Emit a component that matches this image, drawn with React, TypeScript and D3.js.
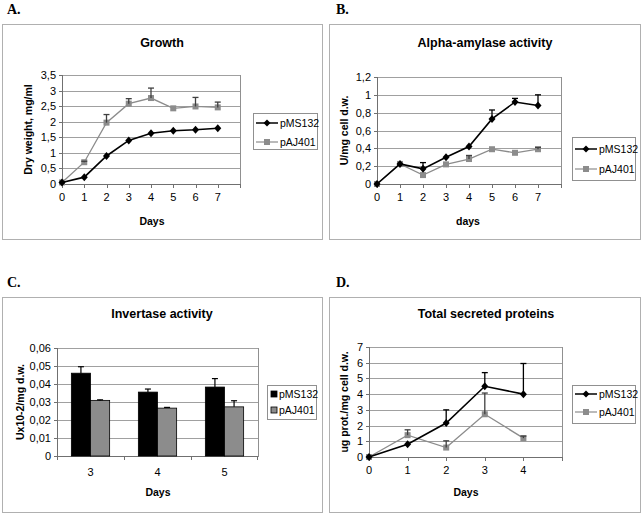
import * as d3 from "d3";

const SERIES = ["pMS132", "pAJ401"];

// A. Growth
const growthDays = [0, 1, 2, 3, 4, 5, 6, 7];
const growthMS = [0.05, 0.22, 0.9, 1.4, 1.63, 1.71, 1.74, 1.79];
const growthAJ = [0.05, 0.7, 1.97, 2.58, 2.76, 2.43, 2.49, 2.46];
const growthMSErr = [0, 0, 0, 0, 0, 0, 0, 0];
const growthAJErr = [0, 0.03, 0.26, 0.16, 0.32, 0, 0.29, 0.17];

// B. Alpha-amylase
const amyDays = [0, 1, 2, 3, 4, 5, 6, 7];
const amyMS = [0, 0.225, 0.17, 0.3, 0.42, 0.73, 0.92, 0.88];
const amyAJ = [0, 0.225, 0.1, 0.22, 0.28, 0.39, 0.35, 0.39];
const amyMSErr = [0, 0, 0.07, 0, 0, 0.1, 0.04, 0.12];
const amyAJErr = [0, 0, 0, 0, 0.04, 0, 0, 0.02];

// C. Invertase
const invDays = ["3", "4", "5"];
const invMS = [0.046, 0.0355, 0.0383];
const invAJ = [0.0309, 0.0266, 0.0273];
const invMSErr = [0.0036, 0.0017, 0.0047];
const invAJErr = [0.0003, 0.0004, 0.0034];

// D. Total secreted proteins
const protDays = [0, 1, 2, 3, 4];
const protMS = [0, 0.81, 2.16, 4.5, 4.0];
const protAJ = [0, 1.39, 0.6, 2.72, 1.2];
const protMSErr = [0, 0, 0.84, 0.87, 1.95];
const protAJErr = [0, 0.34, 0.43, 1.35, 0.13];

const FONT = "'Liberation Sans', Arial, sans-serif";
const fmt = (v: number) => String(+v.toFixed(3)).replace(".", ",");

type Box = { x: number; y: number; w: number; h: number };
type Plot = { l: number; r: number; t: number; b: number };

const Frame = ({ box, letter, title, xTitle, yTitle, plot, letterX }: any) => (
  <g>
    <text x={letterX} y={box.y - 10} fontFamily="'Liberation Serif', 'Times New Roman', serif" fontWeight="bold" fontSize={14}>
      {letter}
    </text>
    <rect x={box.x + 0.5} y={box.y + 0.5} width={box.w} height={box.h} fill="white" stroke="#b0b0b0" />
    <text x={title.x} y={title.y} textAnchor="middle" fontFamily={FONT} fontWeight="bold" fontSize={12.5}>
      {title.text}
    </text>
    <text x={xTitle.x} y={xTitle.y} textAnchor="middle" fontFamily={FONT} fontWeight="bold" fontSize={10.5}>
      {xTitle.text}
    </text>
    <text
      transform={`translate(${yTitle.x},${(plot.t + plot.b) / 2}) rotate(-90)`}
      textAnchor="middle"
      fontFamily={FONT}
      fontWeight="bold"
      fontSize={10.5}
    >
      {yTitle.text}
    </text>
  </g>
);

const YGrid = ({ plot, y, ticks }: { plot: Plot; y: d3.ScaleLinear<number, number>; ticks: number[] }) => (
  <g>
    <rect x={plot.l + 0.5} y={plot.t + 0.5} width={plot.r - plot.l} height={plot.b - plot.t} fill="white" stroke="#909090" />
    {ticks.map((t) => (
      <g key={t}>
        <line x1={plot.l} x2={plot.r} y1={Math.round(y(t)) + 0.5} y2={Math.round(y(t)) + 0.5} stroke="#a0a0a0" />
        <line x1={plot.l - 3} x2={plot.l} y1={Math.round(y(t)) + 0.5} y2={Math.round(y(t)) + 0.5} stroke="#707070" />
        <text x={plot.l - 6} y={y(t) + 4} textAnchor="end" fontFamily={FONT} fontSize={11}>
          {fmt(t)}
        </text>
      </g>
    ))}
    <line x1={plot.l + 0.5} x2={plot.l + 0.5} y1={plot.t} y2={plot.b} stroke="#707070" />
    <line x1={plot.l} x2={plot.r} y1={plot.b + 0.5} y2={plot.b + 0.5} stroke="#707070" />
  </g>
);

const Legend = ({ box, rows, kind }: { box: Box; rows: number[]; kind: "line" | "bar" }) => (
  <g fontFamily={FONT} fontSize={10.5}>
    <rect x={box.x + 0.5} y={box.y + 0.5} width={box.w} height={box.h} fill="white" stroke="#909090" />
    {SERIES.map((s, i) => {
      const cy = rows[i];
      const color = i === 0 ? "#000" : "#8c8c8c";
      return (
        <g key={s}>
          {kind === "line" ? (
            <g>
              <line x1={box.x + 3} x2={box.x + 25} y1={cy} y2={cy} stroke={color} strokeWidth={i === 0 ? 1.5 : 1.2} />
              {i === 0 ? (
                <path d={`M${box.x + 14},${cy - 3.5}L${box.x + 17.5},${cy}L${box.x + 14},${cy + 3.5}L${box.x + 10.5},${cy}Z`} fill="#000" />
              ) : (
                <rect x={box.x + 11} y={cy - 3} width={6} height={6} fill={color} />
              )}
            </g>
          ) : (
            <rect x={box.x + 4} y={cy - 3} width={6} height={6} fill={i === 0 ? "#000" : "#8c8c8c"} stroke="#000" strokeWidth={0.8} />
          )}
          <text x={box.x + (kind === "line" ? 27 : 12)} y={cy + 4}>
            {s}
          </text>
        </g>
      );
    })}
  </g>
);

type LineProps = {
  box: Box;
  plot: Plot;
  letter: string;
  letterX: number;
  title: any;
  xTitle: any;
  yTitle: any;
  days: number[];
  xMax: number;
  yMax: number;
  yStep: number;
  ms: number[];
  aj: number[];
  msErr: number[];
  ajErr: number[];
  legend: Box;
  legendRows: number[];
};

const LinePanel = (p: LineProps) => {
  const x = d3.scaleLinear().domain([0, p.xMax]).range([p.plot.l, p.plot.r]);
  const y = d3.scaleLinear().domain([0, p.yMax]).range([p.plot.b, p.plot.t]);
  const yTicks = d3.range(0, p.yMax + p.yStep / 2, p.yStep).map((v) => +v.toFixed(3));
  const xTicks = d3.range(0, p.xMax + 1);
  const line = d3
    .line<number>()
    .x((_, i) => x(p.days[i]))
    .y((d) => y(d));
  const errs = (vals: number[], err: number[], color: string) =>
    vals.map((v, i) =>
      err[i] > 0 ? (
        <g key={i} stroke={color} strokeWidth={1.3}>
          <line x1={x(p.days[i])} x2={x(p.days[i])} y1={y(v)} y2={y(v + err[i])} />
          <line x1={x(p.days[i]) - 3} x2={x(p.days[i]) + 3} y1={y(v + err[i])} y2={y(v + err[i])} />
        </g>
      ) : null
    );
  return (
    <g>
      <Frame box={p.box} letter={p.letter} letterX={p.letterX} title={p.title} xTitle={p.xTitle} yTitle={p.yTitle} plot={p.plot} />
      <YGrid plot={p.plot} y={y} ticks={yTicks} />
      {xTicks.map((t) => (
        <g key={t}>
          <line x1={Math.round(x(t)) + 0.5} x2={Math.round(x(t)) + 0.5} y1={p.plot.b} y2={p.plot.b + 4} stroke="#707070" />
          {t < p.xMax && (
            <text x={x(t)} y={p.plot.b + 17} textAnchor="middle" fontFamily={FONT} fontSize={11}>
              {t}
            </text>
          )}
        </g>
      ))}
      <path d={line(p.aj) || ""} fill="none" stroke="#8c8c8c" strokeWidth={1.3} />
      {p.aj.map((v, i) => (
        <rect key={i} x={x(p.days[i]) - 3} y={y(v) - 3} width={6} height={6} fill="#8c8c8c" />
      ))}
      {errs(p.aj, p.ajErr, "#404040")}
      <path d={line(p.ms) || ""} fill="none" stroke="#000" strokeWidth={1.6} />
      {p.ms.map((v, i) => {
        const cx = x(p.days[i]);
        const cy = y(v);
        return <path key={i} d={`M${cx},${cy - 4}L${cx + 3.5},${cy}L${cx},${cy + 4}L${cx - 3.5},${cy}Z`} fill="#000" />;
      })}
      {errs(p.ms, p.msErr, "#000")}
      <Legend box={p.legend} rows={p.legendRows} kind="line" />
    </g>
  );
};

const BarPanel = () => {
  const box = { x: 2, y: 297, w: 320, h: 215 };
  const plot = { l: 57, r: 258, t: 348, b: 456 };
  const x0 = d3.scaleBand<string>().domain(invDays).range([plot.l, plot.r]);
  const bw = x0.bandwidth() / 3.5;
  const y = d3.scaleLinear().domain([0, 0.06]).range([plot.b, plot.t]);
  const yTicks = d3.range(0, 0.065, 0.01).map((v) => +v.toFixed(2));
  const series = [
    { vals: invMS, err: invMSErr, fill: "#000" },
    { vals: invAJ, err: invAJErr, fill: "#8c8c8c" },
  ];
  return (
    <g>
      <Frame
        box={box}
        letter="C."
        letterX={7}
        title={{ x: 162, y: 318, text: "Invertase activity" }}
        xTitle={{ x: 158, y: 496, text: "Days" }}
        yTitle={{ x: 24, text: "Ux10-2/mg d.w." }}
        plot={plot}
      />
      <YGrid plot={plot} y={y} ticks={yTicks} />
      {invDays.map((d, i) => (
        <g key={d}>
          <line x1={Math.round(x0(d)!) + 0.5} x2={Math.round(x0(d)!) + 0.5} y1={plot.b} y2={plot.b + 4} stroke="#707070" />
          <text x={x0(d)! + x0.bandwidth() / 2} y={plot.b + 20} textAnchor="middle" fontFamily={FONT} fontSize={11}>
            {d}
          </text>
          {series.map((s, j) => {
            const bx = x0(d)! + 0.75 * bw + j * bw;
            return (
              <g key={j}>
                <rect x={bx} y={y(s.vals[i])} width={bw} height={plot.b - y(s.vals[i])} fill={s.fill} stroke="#000" strokeWidth={0.8} />
                <g stroke="#000" strokeWidth={1.2}>
                  <line x1={bx + bw / 2} x2={bx + bw / 2} y1={y(s.vals[i])} y2={y(s.vals[i] + s.err[i])} />
                  <line x1={bx + bw / 2 - 3} x2={bx + bw / 2 + 3} y1={y(s.vals[i] + s.err[i])} y2={y(s.vals[i] + s.err[i])} />
                </g>
              </g>
            );
          })}
        </g>
      ))}
      <line x1={plot.r - 0.5} x2={plot.r - 0.5} y1={plot.b} y2={plot.b + 4} stroke="#707070" />
      <Legend box={{ x: 267, y: 385, w: 49, h: 34 }} rows={[394, 410]} kind="bar" />
    </g>
  );
};

export default function App() {
  return (
    <svg width={643} height={513} style={{ position: "absolute", left: 0, top: 0 }}>
      <rect width={643} height={513} fill="white" />
      <LinePanel
        box={{ x: 2, y: 24, w: 320, h: 215 }}
        plot={{ l: 62, r: 240, t: 75, b: 184 }}
        letter="A."
        letterX={7}
        title={{ x: 162, y: 47, text: "Growth" }}
        xTitle={{ x: 152, y: 225, text: "Days" }}
        yTitle={{ x: 32, text: "Dry weight, mg/ml" }}
        days={growthDays}
        xMax={8}
        yMax={3.5}
        yStep={0.5}
        ms={growthMS}
        aj={growthAJ}
        msErr={growthMSErr}
        ajErr={growthAJErr}
        legend={{ x: 253, y: 113, w: 64, h: 36 }}
        legendRows={[123, 142]}
      />
      <LinePanel
        box={{ x: 329, y: 24, w: 311, h: 215 }}
        plot={{ l: 377, r: 561, t: 77, b: 184 }}
        letter="B."
        letterX={336}
        title={{ x: 485, y: 47, text: "Alpha-amylase activity" }}
        xTitle={{ x: 468, y: 225, text: "days" }}
        yTitle={{ x: 348, text: "U/mg cell d.w." }}
        days={amyDays}
        xMax={8}
        yMax={1.2}
        yStep={0.2}
        ms={amyMS}
        aj={amyAJ}
        msErr={amyMSErr}
        ajErr={amyAJErr}
        legend={{ x: 572, y: 137, w: 63, h: 43 }}
        legendRows={[149, 169]}
      />
      <BarPanel />
      <LinePanel
        box={{ x: 329, y: 297, w: 311, h: 215 }}
        plot={{ l: 369, r: 562, t: 347, b: 457 }}
        letter="D."
        letterX={336}
        title={{ x: 486, y: 318, text: "Total secreted proteins" }}
        xTitle={{ x: 466, y: 496, text: "Days" }}
        yTitle={{ x: 348, text: "ug prot./mg cell d.w." }}
        days={protDays}
        xMax={5}
        yMax={7}
        yStep={1}
        ms={protMS}
        aj={protAJ}
        msErr={protAJErr.map((_, i) => protMSErr[i])}
        ajErr={protAJErr}
        legend={{ x: 572, y: 385, w: 63, h: 38 }}
        legendRows={[394, 412]}
      />
    </svg>
  );
}
